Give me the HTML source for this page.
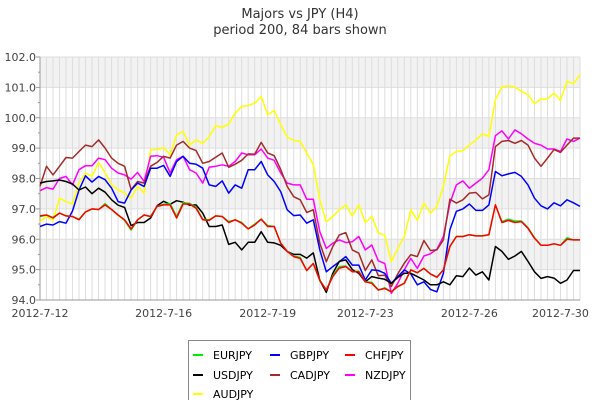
<!DOCTYPE html>
<html><head><meta charset="utf-8"><style>
body{margin:0;background:#fff;font-family:"DejaVu Sans","Liberation Sans",sans-serif;}
svg text{font-family:"DejaVu Sans","Liberation Sans",sans-serif;}
</style></head><body>
<svg id="chart" width="600" height="400" xmlns="http://www.w3.org/2000/svg">
<text x="300" y="18" font-size="13" fill="#333" text-anchor="middle">Majors vs JPY (H4)</text>
<text x="300" y="34" font-size="13" fill="#333" text-anchor="middle">period 200, 84 bars shown</text>
<g id="grid"></g>
<g id="axes"></g>
<g id="series"></g>
<g id="legend"></g>
</svg>
<script>
const xLabels = ["2012-7-12","2012-7-16","2012-7-19","2012-7-23","2012-7-26","2012-7-30"];
const xLabelIdx = [0,19,35,50,66,80];
const yTicks = [94,95,96,97,98,99,100,101,102];
const seriesNames = ["EURJPY","GBPJPY","CHFJPY","USDJPY","CADJPY","NZDJPY","AUDJPY"];
const seriesColors = ["#00ee00","#0000ff","#ff0000","#000000","#a52a2a","#ff00ff","#ffff00"];
const usd = [97.85,97.9,97.92,97.95,97.9,97.82,97.62,97.72,97.5,97.68,97.55,97.3,97.12,97.05,96.45,96.55,96.55,96.7,97.1,97.25,97.15,97.27,97.22,97.12,97.13,96.86,96.42,96.42,96.47,95.83,95.9,95.65,95.9,95.9,96.25,95.9,95.88,95.8,95.6,95.5,95.5,95.38,95.55,94.65,94.25,94.88,95.27,95.32,95.0,94.88,94.6,94.77,94.72,94.68,94.55,94.74,94.88,94.88,94.77,94.66,94.5,94.5,94.6,94.5,94.8,94.77,95.05,94.82,94.93,94.66,95.76,95.6,95.34,95.45,95.6,95.27,94.93,94.71,94.77,94.72,94.55,94.66,94.97,94.97];
const chf = [96.77,96.8,96.7,96.86,96.77,96.75,96.64,96.9,97.0,96.98,97.13,96.98,96.8,96.64,96.34,96.64,96.8,96.75,97.08,97.13,97.13,96.7,97.16,97.16,97.02,96.64,96.62,96.77,96.75,96.55,96.64,96.53,96.34,96.47,96.66,96.42,96.42,95.87,95.6,95.43,95.37,94.97,95.2,94.65,94.33,94.77,95.05,95.1,94.93,94.93,94.6,94.55,94.33,94.38,94.27,94.44,94.55,94.99,94.9,95.04,94.86,94.75,94.99,95.76,96.09,96.09,96.15,96.11,96.11,96.15,97.13,96.55,96.62,96.55,96.58,96.36,96.03,95.8,95.8,95.85,95.8,96.0,95.98,95.98];
const eur = [96.75,96.8,96.72,96.86,96.77,96.75,96.66,96.9,97.0,96.98,97.17,96.98,96.8,96.62,96.3,96.64,96.8,96.75,97.08,97.15,97.17,96.75,97.2,97.18,97.05,96.66,96.64,96.77,96.75,96.58,96.64,96.55,96.34,96.5,96.66,96.45,96.42,95.87,95.6,95.45,95.4,94.97,95.2,94.65,94.33,94.8,95.1,95.12,94.93,94.95,94.6,94.58,94.33,94.4,94.27,94.44,94.55,94.99,94.9,95.04,94.86,94.75,94.99,95.76,96.09,96.09,96.15,96.11,96.11,96.15,97.13,96.58,96.66,96.6,96.6,96.38,96.05,95.8,95.8,95.85,95.8,96.05,95.98,95.98];
const gbp = [96.42,96.5,96.47,96.58,96.53,96.93,97.62,98.09,97.88,98.07,97.96,97.68,97.24,97.19,97.62,97.85,97.74,98.34,98.34,98.43,98.07,98.56,98.73,98.5,98.47,98.34,97.79,97.74,97.92,97.52,97.79,97.68,98.29,98.29,98.56,98.12,97.9,97.57,96.97,96.78,96.8,96.53,96.64,95.65,94.93,95.1,95.26,95.43,95.15,95.15,94.66,94.99,94.97,94.88,94.55,94.77,94.99,94.86,94.5,94.6,94.35,94.27,94.88,96.31,96.92,97.0,97.16,96.95,96.95,97.13,98.23,98.09,98.15,98.2,98.07,97.79,97.35,97.1,97.0,97.2,97.1,97.3,97.2,97.08];
const cad = [97.74,98.4,98.12,98.4,98.69,98.67,98.89,99.1,99.05,99.27,99.0,98.67,98.5,98.4,97.63,97.9,97.85,98.4,98.53,98.73,98.67,99.1,99.22,99.0,98.92,98.5,98.56,98.7,98.84,98.37,98.47,98.6,98.81,98.8,99.19,98.84,98.75,98.3,97.74,97.4,97.3,96.88,96.97,95.87,95.26,95.76,96.14,96.22,95.65,95.54,94.97,95.32,94.8,94.82,94.44,94.86,95.21,95.49,95.43,95.96,95.63,95.65,95.98,97.32,97.19,97.3,97.52,97.54,97.33,97.46,99.05,99.22,99.25,99.16,99.25,99.1,98.67,98.4,98.67,98.95,98.86,99.1,99.33,99.33];
const nzd = [97.6,97.7,97.65,98.0,98.07,97.79,98.29,98.42,98.42,98.67,98.62,98.34,98.18,98.12,97.98,98.2,97.9,98.73,98.75,98.7,98.18,98.62,98.73,98.29,98.18,97.85,98.37,98.4,98.45,98.4,98.56,98.84,98.78,98.78,98.97,98.67,98.6,98.18,97.85,97.79,97.79,97.32,97.32,96.25,95.7,95.87,95.98,95.89,95.92,96.09,95.65,95.81,95.29,95.2,94.22,94.55,94.99,95.37,95.04,95.45,95.52,95.67,96.09,97.19,97.79,97.92,97.68,97.85,98.01,98.29,99.41,99.57,99.3,99.6,99.47,99.3,99.16,99.1,98.97,98.97,98.89,99.3,99.22,99.33];
const aud = [96.58,96.75,96.62,97.35,97.24,97.16,97.85,98.18,98.07,98.53,98.18,97.79,97.63,97.52,97.35,97.74,97.52,98.95,98.95,99.02,98.78,99.44,99.55,99.1,99.27,99.16,99.38,99.74,99.68,99.8,100.15,100.37,100.4,100.48,100.7,100.1,100.24,99.77,99.36,99.25,99.22,98.84,98.45,97.3,96.58,96.75,96.97,97.13,96.77,97.13,96.55,96.75,96.2,96.14,95.26,95.7,96.09,96.97,96.62,97.19,96.86,97.08,97.74,98.75,98.89,98.92,99.1,99.27,99.47,99.38,100.59,101.01,101.05,101.01,100.87,100.76,100.46,100.62,100.62,100.81,100.57,101.2,101.12,101.42];
const seriesData = [eur,gbp,chf,usd,cad,nzd,aud];

const NS="http://www.w3.org/2000/svg";
const L=40,R=580,T=57,B=300,yMin=94,yMax=102,N=84;
const xS=i=>L+(R-L)*i/(N-1);
const yS=v=>B-(v-yMin)/(yMax-yMin)*(B-T);
function mk(tag,attrs,parent){const e=document.createElementNS(NS,tag);for(const k in attrs)e.setAttribute(k,attrs[k]);parent.appendChild(e);return e;}
const grid=document.getElementById('grid'),axes=document.getElementById('axes'),ser=document.getElementById('series'),leg=document.getElementById('legend');
for(let k=0;k<yTicks.length-1;k++){
  if(k%2===1){const b=mk('rect',{x:L,y:yS(yTicks[k+1]),width:R-L,height:yS(yTicks[k])-yS(yTicks[k+1]),fill:'#f2f2f2'},grid);
  
  }
}
for(let i=0;i<N;i++){const l=mk('line',{x1:xS(i),x2:xS(i),y1:T,y2:B,stroke:'#dddddd','stroke-width':1},grid);

}
yTicks.forEach(v=>{const l=mk('line',{x1:L,x2:R,y1:yS(v),y2:yS(v),stroke:'#dddddd','stroke-width':1},grid);


const t=mk('text',{x:L-4,y:yS(v)+4,'font-size':11,fill:'#444','text-anchor':'end'},axes);t.textContent=v.toFixed(1);


mk('line',{x1:L-4,x2:L,y1:yS(v),y2:yS(v),stroke:'#999'},axes);
if(v<yMax)mk('line',{x1:L-2,x2:L,y1:yS(v+0.5),y2:yS(v+0.5),stroke:'#999'},axes);});
mk('line',{x1:L,x2:L,y1:T,y2:B,stroke:'#999'},axes);
mk('line',{x1:L,x2:R,y1:B,y2:B,stroke:'#999'},axes);
xLabels.forEach((s,k)=>{const t=mk('text',{x:xS(xLabelIdx[k]),y:B+17,'font-size':11,fill:'#444','text-anchor':'middle'},axes);t.textContent=s;

});
const order=[6,5,4,1,3,0,2];
order.forEach(s=>{const p=mk('polyline',{points:seriesData[s].map((v,i)=>xS(i).toFixed(1)+','+yS(v).toFixed(1)).join(' '),fill:'none',stroke:seriesColors[s],'stroke-width':1.5,'stroke-linejoin':'round'},ser);

});
const box=mk('rect',{x:188.5,y:340.5,width:222,height:70,fill:'#fff',stroke:'#888'},leg);


const colX=[193,270,345],rowY=[355,375,394];
seriesNames.forEach((n,k)=>{const cx=colX[k%3],cy=rowY[Math.floor(k/3)];
const g=mk('g',{},leg);


mk('line',{x1:cx,x2:cx+10,y1:cy,y2:cy,stroke:seriesColors[k],'stroke-width':2},g);
const t=mk('text',{x:cx+20,y:cy+4,'font-size':11,fill:'#000'},g);t.textContent=n;});
</script>
</body></html>
